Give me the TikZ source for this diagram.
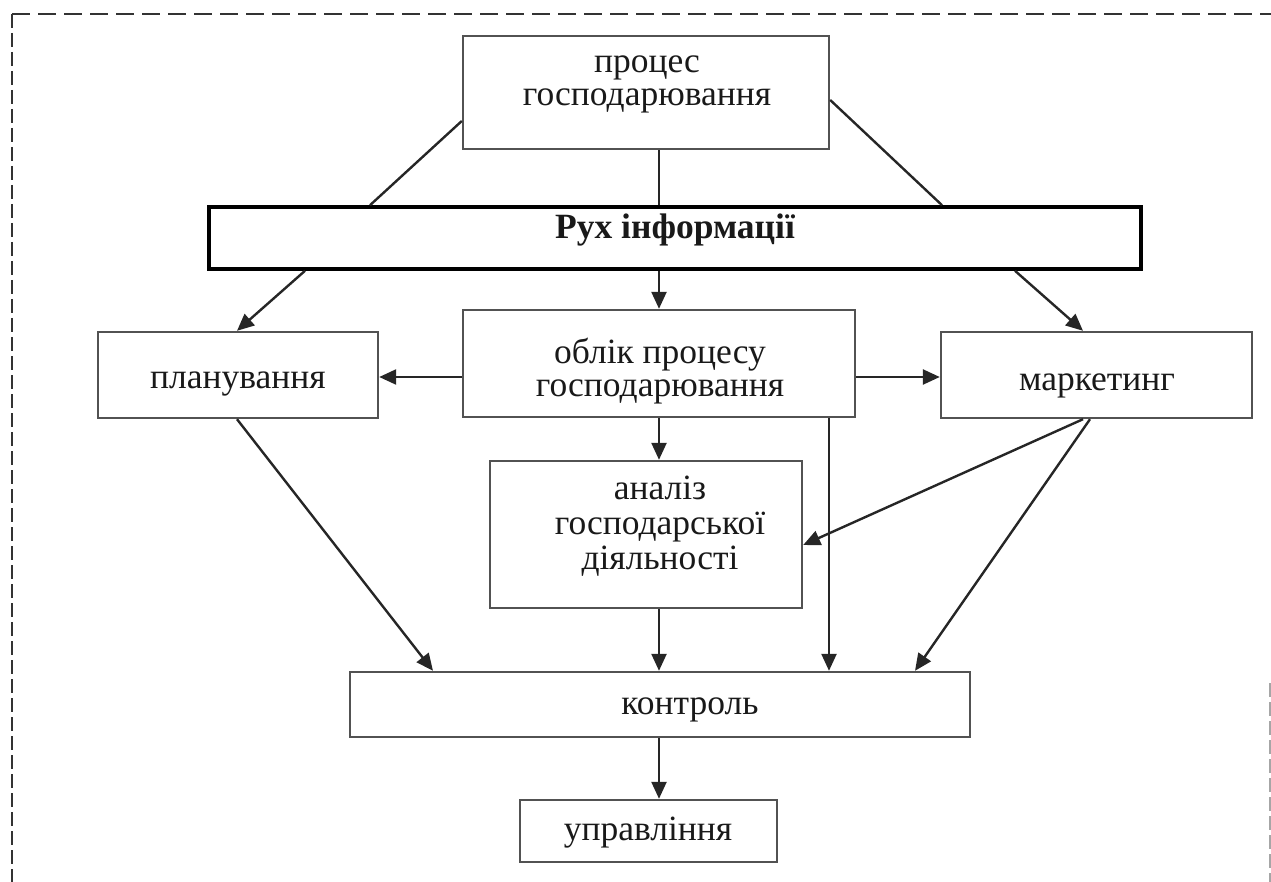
\documentclass[tikz,border=0pt]{standalone}
\usepackage{fontspec}
\setmainfont{Liberation Serif}
\usetikzlibrary{arrows.meta}
\begin{document}
\begin{tikzpicture}[x=1pt,y=-1pt,
  box/.style={draw=black!68,line width=2.4pt,rectangle,inner sep=0pt},
  txt/.style={font=\fontsize{35.5}{33}\selectfont,align=center,inner sep=0pt,text=black!90},
  conn/.style={draw=black!85,line width=2.4pt},
  arr/.style={conn,-{Triangle[length=17pt,width=15pt]}}
]
\useasboundingbox (0,0) rectangle (1271,882);

% dashed frame
\draw[black!80,line width=2.4pt,dash pattern=on 18pt off 8pt] (12,14) -- (1271,14);
\draw[black!80,line width=2.4pt,dash pattern=on 14pt off 5pt] (12,14) -- (12,882);
\draw[black!35,line width=1.6pt,dash pattern=on 14pt off 5pt] (1270,683) -- (1270,882);

% boxes
\node[box,minimum width=366pt,minimum height=113pt] (proc) at (646,92.5) {};
\node[box,draw=black,line width=3.6pt,minimum width=932pt,minimum height=62pt] (rux) at (675,238) {};
\node[box,minimum width=280pt,minimum height=86pt] (plan) at (238,375) {};
\node[box,minimum width=392pt,minimum height=107pt] (oblik) at (659,363.5) {};
\node[box,minimum width=311pt,minimum height=86pt] (mark) at (1096.5,375) {};
\node[box,minimum width=312pt,minimum height=147pt] (analiz) at (646,534.5) {};
\node[box,minimum width=620pt,minimum height=65pt] (kontrol) at (660,704.5) {};
\node[box,minimum width=257pt,minimum height=62pt] (upr) at (648.5,831) {};

% texts
\node[txt] (proc-t) at (647,84) {процес\\господарювання};
\node[txt,font=\fontsize{35.5}{33}\selectfont\bfseries] (rux-t) at (675,230) {Рух інформації};
\node[txt] (plan-t) at (238,384) {планування};
\node[txt] (oblik-t) at (660,371) {облік процесу\\господарювання};
\node[txt] (mark-t) at (1097,386) {маркетинг};
\node[txt,font=\fontsize{35.5}{35}\selectfont] (analiz-t) at (660,526) {аналіз\\господарської\\діяльності};
\node[txt] (kontrol-t) at (690,710) {контроль};
\node[txt] (upr-t) at (648,833) {управління};

% connectors
\draw[conn] (proc.west |- 0,121) -- (370,0 |- rux.north);
\draw[conn] (659,0 |- proc.south) -- (659,0 |- rux.north);
\draw[conn] (proc.east |- 0,100) -- (942,0 |- rux.north);

\draw[arr] (305,0 |- rux.south) -- (237,0 |- plan.north);
\draw[arr] (659,0 |- rux.south) -- (659,0 |- oblik.north);
\draw[arr] (1015,0 |- rux.south) -- (1083,0 |- mark.north);

\draw[arr] (oblik.west |- 0,377) -- (plan.east |- 0,377);
\draw[arr] (oblik.east |- 0,377) -- (mark.west |- 0,377);

\draw[arr] (659,0 |- oblik.south) -- (659,0 |- analiz.north);
\draw[arr] (829,0 |- oblik.south) -- (829,0 |- kontrol.north);
\draw[arr] (1083,0 |- mark.south) -- (analiz.east |- 0,545);
\draw[arr] (1090,0 |- mark.south) -- (915,0 |- kontrol.north);
\draw[arr] (237,0 |- plan.south) -- (433,0 |- kontrol.north);
\draw[arr] (659,0 |- analiz.south) -- (659,0 |- kontrol.north);
\draw[arr] (659,0 |- kontrol.south) -- (659,0 |- upr.north);
\end{tikzpicture}
\end{document}
